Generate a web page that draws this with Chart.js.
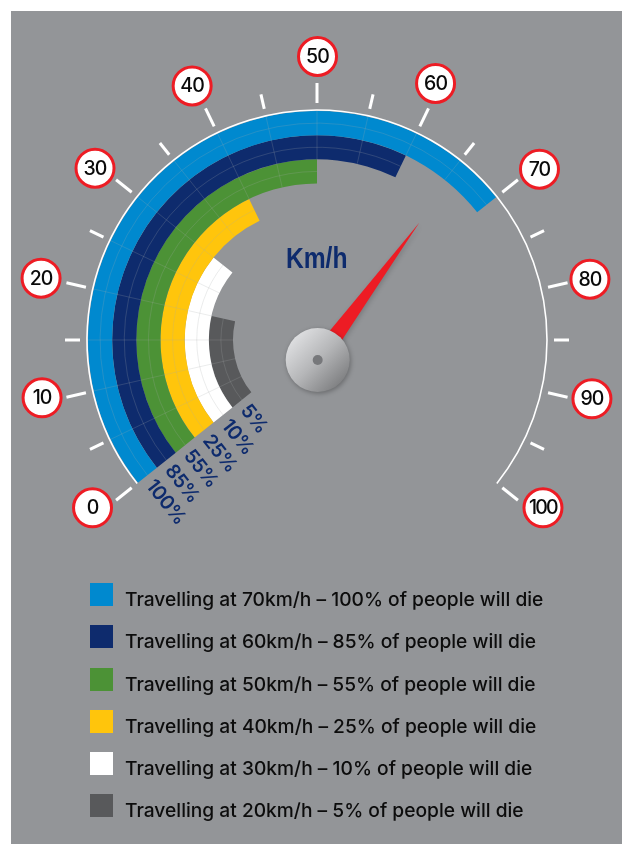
<!DOCTYPE html>
<html>
<head>
<meta charset="utf-8">
<title>Speed and pedestrian fatality gauge</title>
<style>
html,body{margin:0;padding:0;background:#fff;}
#wrap{position:absolute;left:0;top:0;width:622px;height:844px;}
</style>
<script src="https://cdn.jsdelivr.net/npm/chart.js@4/dist/chart.umd.min.js"></script>
</head>
<body>
<div id="wrap"><canvas id="c" width="622" height="844"></canvas></div>
<script>
// ---- data ----
const speeds = [70, 60, 50, 40, 30, 20];
const fatalities = [100, 85, 55, 25, 10, 5];
const ringColors = ['#0089CF', '#0E2B6D', '#4C9236', '#FFC50C', '#FFFFFF', '#58595B'];
const dialLabels = [0, 10, 20, 30, 40, 50, 60, 70, 80, 90, 100];
const dialTicks = [0, 5, 10, 15, 20, 25, 30, 35, 40, 45, 50, 55, 60, 65, 70, 75, 80, 85, 90, 95, 100];
const needleSpeed = 64.2;
const unitTitle = 'Km/h';
const legendTexts = speeds.map((s, i) => 'Travelling at ' + s + 'km/h \u2013 ' + fatalities[i] + '% of people will die');

// ---- dial geometry ----
const FULL_TURN_UNITS = 140;          // 100 km/h covers 5/7 of a turn
const ROTATION = -128.5714;
const RING_OUTER = 229;
const NAVY = '#0E2B6D', RED = '#ED1C24', BG = '#939598';
const labelNudge = {0:[-4,-8],10:[0,-5],20:[-1,1],30:[-1.5,4],40:[-2.5,0],50:[0.5,-1.5],60:[-3.8,-2.5],70:[2,5],80:[-2,2],90:[0,-4],100:[5.5,-8]};

const dialPlugin = {
  id: 'dial',
  beforeDraw(chart) {
    const c = chart.ctx;
    c.save();
    c.fillStyle = BG;
    c.fillRect(11, 11, 611, 833);
    c.restore();
  },
  afterDatasetsDraw(chart) {
    const c = chart.ctx;
    const base = chart.getDatasetMeta(0).data[0];
    const cx = base.x, cy = base.y;
    const perUnit = (base.endAngle - base.startAngle) / speeds[0];
    const angle = v => base.startAngle + v * perUnit;
    const pt = (v, r) => [cx + r * Math.cos(angle(v)), cy + r * Math.sin(angle(v))];

    // faint grid on the coloured rings
    c.save();
    c.strokeStyle = 'rgba(165,168,172,0.38)';
    c.lineWidth = 0.6;
    speeds.forEach((s, i) => {
      const a = chart.getDatasetMeta(i).data[0];
      const mid = (a.innerRadius + a.outerRadius) / 2;
      c.beginPath();
      c.arc(cx, cy, mid, a.startAngle, a.endAngle);
      c.stroke();
      dialTicks.filter(t => t > 0 && t < s).forEach(t => {
        const p = pt(t, a.innerRadius), q = pt(t, a.outerRadius);
        c.beginPath(); c.moveTo(p[0], p[1]); c.lineTo(q[0], q[1]); c.stroke();
      });
    });
    c.restore();

    // white dial rim
    c.save();
    c.strokeStyle = '#fff';
    c.lineWidth = 1.6;
    c.beginPath();
    c.arc(cx, cy, 230, angle(0), angle(100));
    c.stroke();

    // ticks
    c.lineWidth = 3;
    dialTicks.forEach(t => {
      const major = t % 10 === 0;
      const p = pt(t, 237), q = pt(t, major ? 257 : 252);
      c.beginPath(); c.moveTo(p[0], p[1]); c.lineTo(q[0], q[1]); c.stroke();
    });
    c.restore();

    // speed-sign labels
    dialLabels.forEach(v => {
      const p = pt(v, 282), n = labelNudge[v];
      const x = p[0] + n[0], y = p[1] + n[1];
      c.save();
      c.beginPath(); c.arc(x, y, 19, 0, Math.PI * 2);
      c.fillStyle = '#fff'; c.fill();
      c.lineWidth = 3; c.strokeStyle = RED; c.stroke();
      c.fillStyle = '#0a0a0a';
      c.font = '500 19.5px Inter, "Liberation Sans", sans-serif';
      c.letterSpacing = v === 100 ? '-1.8px' : '-0.9px';
      c.textAlign = 'center'; c.textBaseline = 'middle';
      c.fillText(String(v), x, y + 0.5);
      c.restore();
    });

    // percentage labels along the start edge of the rings
    speeds.forEach((s, i) => {
      const a = chart.getDatasetMeta(i).data[0];
      const p = pt(0, (a.innerRadius + a.outerRadius) / 2);
      c.save();
      c.translate(p[0], p[1]);
      c.rotate(angle(0) - Math.PI / 2);
      c.fillStyle = NAVY;
      c.font = '600 19.5px Inter, "Liberation Sans", sans-serif';
      c.letterSpacing = '-0.6px';
      c.textAlign = 'left'; c.textBaseline = 'middle';
      c.fillText(fatalities[i] + '%', 7, 2.5);
      c.restore();
    });

    // unit title
    c.save();
    c.fillStyle = NAVY;
    c.font = 'bold 29px "Liberation Sans", sans-serif';
    c.textAlign = 'center'; c.textBaseline = 'alphabetic';
    c.translate(316.7, 267.5);
    c.scale(0.85, 1);
    c.fillText(unitTitle, 0, 0);
    c.restore();

    // needle and hub
    const hx = cx + 0.7, hy = cy + 20;
    const na = angle(needleSpeed);
    const ux = Math.cos(na), uy = Math.sin(na);
    c.save();
    c.shadowColor = 'rgba(0,0,0,0.18)'; c.shadowBlur = 5; c.shadowOffsetX = 1.5; c.shadowOffsetY = 1.5;
    c.fillStyle = RED;
    c.beginPath();
    c.moveTo(hx + ux * 171, hy + uy * 171);
    c.quadraticCurveTo(hx + ux * 60 - uy * 5.8, hy + uy * 60 + ux * 5.8, hx - uy * 9.5, hy + ux * 9.5);
    c.lineTo(hx + uy * 9.5, hy - ux * 9.5);
    c.quadraticCurveTo(hx + ux * 60 + uy * 5.8, hy + uy * 60 - ux * 5.8, hx + ux * 171, hy + uy * 171);
    c.fill();
    c.restore();

    c.save();
    c.shadowColor = 'rgba(0,0,0,0.3)'; c.shadowBlur = 5; c.shadowOffsetX = 1; c.shadowOffsetY = 1.5;
    const g = c.createLinearGradient(hx - 24, hy - 24, hx + 24, hy + 24);
    g.addColorStop(0, '#DFE0E2');
    g.addColorStop(0.5, '#B5B6B8');
    g.addColorStop(1, '#7E7F81');
    c.fillStyle = g;
    c.beginPath(); c.arc(hx, hy, 32, 0, Math.PI * 2); c.fill();
    c.restore();
    c.fillStyle = '#77787B';
    c.beginPath(); c.arc(hx, hy, 5, 0, Math.PI * 2); c.fill();

    // legend
    const rows = [583, 625, 668, 710, 752, 794];
    legendTexts.forEach((t, i) => {
      c.fillStyle = ringColors[i];
      c.fillRect(90, rows[i], 23, 23);
      c.fillStyle = '#0c0c0c';
      c.font = '500 19.2px Inter, "Liberation Sans", sans-serif';
      c.textAlign = 'left'; c.textBaseline = 'alphabetic';
      c.fillText(t, 125, rows[i] + 23);
    });
  }
};

new Chart(document.getElementById('c'), {
  type: 'doughnut',
  data: {
    labels: ['Speed reached', 'Rest of the dial'],
    datasets: speeds.map((s, i) => ({
      label: legendTexts[i],
      data: [s, FULL_TURN_UNITS - s],
      backgroundColor: [ringColors[i], 'rgba(0,0,0,0)'],
      borderWidth: 0
    }))
  },
  options: {
    responsive: false,
    animation: false,
    events: [],
    rotation: ROTATION,
    circumference: 360,
    radius: RING_OUTER,
    cutout: '36.68%',
    layout: { padding: { left: 12, right: 0, top: 0, bottom: 164 } },
    plugins: { legend: { display: false }, tooltip: { enabled: false } }
  },
  plugins: [dialPlugin]
});
</script>
</body>
</html>
